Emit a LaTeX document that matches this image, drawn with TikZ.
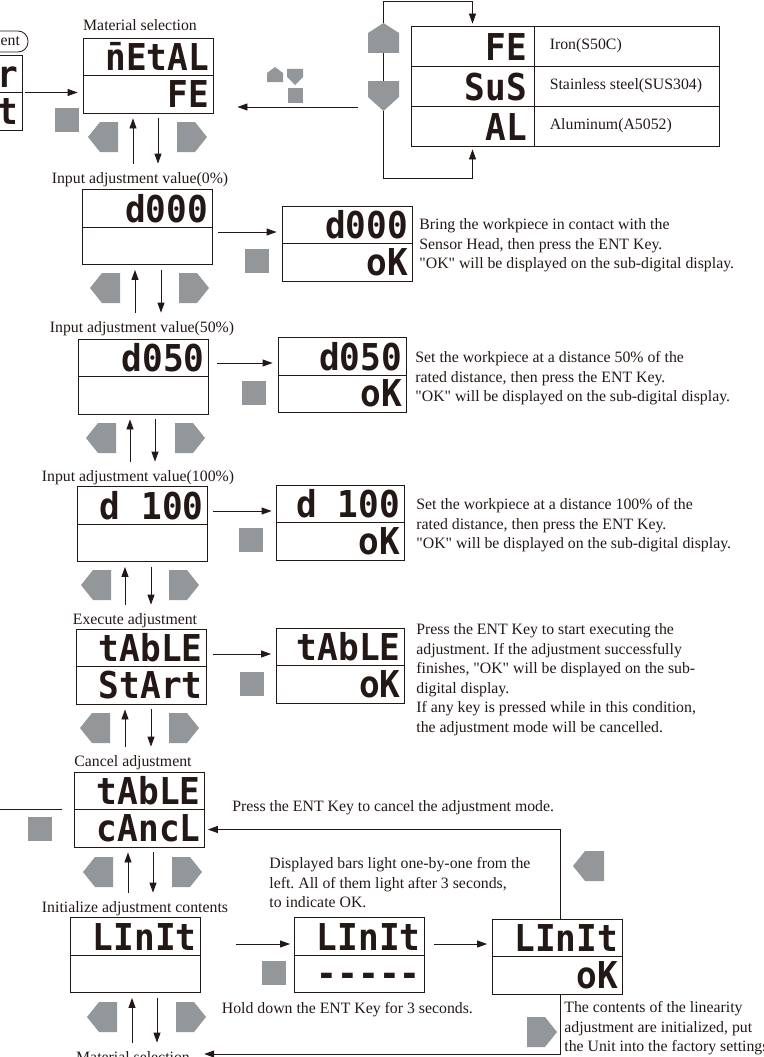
\documentclass[tikz,border=0pt]{standalone}
\usepackage{fontspec}
\setmainfont{Liberation Serif}[Ligatures=TeXOff]
\newfontfamily\segfont{DejaVu Sans Mono}[FakeStretch=0.93, Ligatures=TeXOff]
\usetikzlibrary{arrows.meta, positioning}
\definecolor{lcdink}{HTML}{231815}
\definecolor{keygray}{HTML}{94979A}
\frenchspacing

\begin{document}
\begin{tikzpicture}[x=1pt, y=-1pt, line width=0.8pt, color=lcdink,
  every node/.style={font=\fontsize{15.8}{19.5}\selectfont},
  disp/.style={draw, inner sep=0pt, minimum height=75pt,
    path picture={\draw[line width=0.8pt] (path picture bounding box.west) -- (path picture bounding box.east);}},
  seg/.style={font=\segfont\bfseries\fontsize{37}{37}\selectfont, inner sep=0pt, anchor=base east},
  lbl/.style={inner xsep=0pt, inner ysep=8pt, anchor=base},
  note/.style={align=left, inner sep=0pt, anchor=north west},
  arr/.style={-{Triangle[length=10pt, width=7pt]}},
  cell/.style={draw, minimum height=40pt, inner sep=0pt}]
  \useasboundingbox (0,0) rectangle (763,1057);
  \clip (0,0) rectangle (763,1057);

  % displays: frame, main row, sub row
  \foreach \n/\cx/\cy/\w/\up/\dn in {
      mat/148/75.5/130/{\={n}EtAL}/FE,
      d0a/147/227/130/d000/{},
      d0b/347/243.5/130/d000/oK,
      d5a/143.5/376.5/130/d050/{},
      d5b/342/375/128/d050/oK,
      d1a/142.5/524/130/d 100/{},
      d1b/340/522.5/128/d 100/oK,
      exa/141.5/666.5/130/tAbLE/StArt,
      exb/340.5/665.5/128/tAbLE/oK,
      can/139.5/809.5/130/tAbLE/cAncL,
      ini/135.5/955/130/LInIt/{},
      inib/359.5/955/130/LInIt/-----,
      inic/557/956.5/130/LInIt/oK,
      lft/-43/92.5/130/r/t}
  {
    \node[disp, minimum width=\w] (\n) at (\cx,\cy) {};
    \node[seg] (\n-t) at ([shift={(-4pt,-33pt)}]\n.north east) {\up};
    \node[seg] (\n-b) at ([shift={(-4pt,6pt)}]\n.south east) {\dn};
  }
  \node[draw, rounded corners=10pt, minimum height=21pt, text width=80pt,
        align=right, inner xsep=8pt, inner ysep=0pt] (mode) at (-20,41.5) {ment};

  % step labels
  \node[lbl] (l0) at (140,31) {Material selection};
  \node[lbl] (l1) at (140,183) {Input adjustment value(0\%)};
  \node[lbl] (l2) at (142,332) {Input adjustment value(50\%)};
  \node[lbl] (l3) at (138,481) {Input adjustment value(100\%)};
  \node[lbl] (l4) at (135,624) {Execute adjustment};
  \node[lbl] (l5) at (133,766) {Cancel adjustment};
  \node[lbl] (l6) at (135,912) {Initialize adjustment contents};
  \node[lbl] (l7) at (133,1062) {Material selection};

  % material table
  \foreach \g/\m/\i in {FE/Iron(S50C)/0, SuS/Stainless steel(SUS304)/1, AL/Aluminum(A5052)/2}
  {
    \node[cell, minimum width=123] (g\i) at (472.5,46+40*\i) {};
    \node[seg] (g\i-t) at ([shift={(-7pt,-35pt)}]g\i.north east) {\g};
    \node[cell, minimum width=185, anchor=west] (m\i) at (g\i.east) {};
    \node[anchor=west, inner sep=0pt] (m\i-t) at ([xshift=15pt]m\i.west) {\m};
  }

  % up / down keys between the steps
  \foreach \b/\l/\u/\d in {mat/l1/-15/10, d0a/l2/-12/14, d5a/l3/-13.5/11.5,
      d1a/l4/-17.5/8.5, exa/l5/-16.5/9.5, can/l6/-11.5/13.5, ini/l7/-3.5/21.5}
  {
    \draw[arr] ([xshift=\u]\b.south |- \l.north) -- ([xshift=\u, yshift=-5pt]\b.south);
    \draw[arr] ([xshift=\d, yshift=-5pt]\b.south) -- ([xshift=\d]\b.south |- \l.north);
  }
  \foreach \xl/\xr/\yc in {88/177/137, 90/179/288, 86/175/438, 81/169/585,
      80/169/728, 83/172/872, 87/176/1017}
  {
    \fill[keygray] (\xl,\yc) -- ++(12,-15) -- ++(18,0) -- ++(0,30) -- ++(-18,0) -- cycle;
    \fill[keygray] (\xr,\yc-15) -- ++(18,0) -- ++(12,15) -- ++(-12,15) -- ++(-18,0) -- cycle;
  }

  % ENT key arrows
  \foreach \a/\b/\dy/\s/\e in {d0a/d0b/-5/6/5, d5a/d5b/13.5/8/5, d1a/d1b/13/5/4,
      exa/exb/12.5/6/5, ini/inib/11/35/4, inib/inic/11/9/4.5}
    \draw[arr, shorten <=\s, shorten >=\e] ([yshift=\dy]\a.east) -- ([yshift=\dy]\a.east -| \b.west);
  \foreach \x/\y in {55/108, 245/249, 242/381, 239/528, 240/672, 28/817, 262/961}
    \fill[keygray] (\x,\y) rectangle ++(24,24);
  \draw[arr, shorten <=3, shorten >=5] (lft.east) -- (lft.east -| mat.west);
  \draw ([xshift=-12pt]can.west) -- ++(-80,0);

  % material loop
  \coordinate (ltop) at (383,1);
  \coordinate (lbot) at (383,178);
  \coordinate (selfrom) at (358,107);
  \draw (ltop) -- (lbot);
  \draw[arr, shorten >=2] (ltop) -| (g0.north);
  \draw[arr, shorten >=3] (lbot) -| (g2.south);
  \draw[arr, shorten >=24] (selfrom) -- (selfrom -| mat.east);
  \fill[keygray] (383.5,23) -- ++(15.5,10) -- ++(0,20) -- ++(-31,0) -- ++(0,-20) -- cycle;
  \fill[keygray] (368,81) -- ++(31,0) -- ++(0,16) -- ++(-15.5,14) -- ++(-15.5,-14) -- cycle;
  \fill[keygray] (275,67) -- ++(8,6) -- ++(0,9) -- ++(-16,0) -- ++(0,-9) -- cycle;
  \fill[keygray] (287,69) -- ++(16,0) -- ++(0,8) -- ++(-8,8) -- ++(-8,-8) -- cycle;
  \fill[keygray] (288,88) rectangle ++(15,15);

  % return paths from the initialized display
  \draw[arr, shorten >=3] ([xshift=3pt]inic.north) |- ([yshift=-20pt]can.east);
  \draw[arr] ([xshift=3pt]inic.south) |- ([xshift=14pt, yshift=8pt]l7.base east);
  \fill[keygray] (573,866) -- ++(12,-15) -- ++(19,0) -- ++(0,30) -- ++(-19,0) -- cycle;
  \fill[keygray] (527,1017) -- ++(18,0) -- ++(12,15) -- ++(-12,15) -- ++(-18,0) -- cycle;

  % notes
  \node[note] (n0) at (419,218.2) {Bring the workpiece in contact with the\\Sensor Head, then press the ENT Key.\\"OK" will be displayed on the sub-digital display.};
  \node[note] (n5) at (415,351.2) {Set the workpiece at a distance 50\% of the\\rated distance, then press the ENT Key.\\"OK" will be displayed on the sub-digital display.};
  \node[note] (n1) at (416,498.2) {Set the workpiece at a distance 100\% of the\\rated distance, then press the ENT Key.\\"OK" will be displayed on the sub-digital display.};
  \node[note] (nx) at (416,623.2) {Press the ENT Key to start executing the\\adjustment. If the adjustment successfully\\finishes, "OK" will be displayed on the sub-\\digital display.\\If any key is pressed while in this condition,\\the adjustment mode will be cancelled.};
  \node[anchor=base west, inner sep=0pt] (ncan) at (232,811) {Press the ENT Key to cancel the adjustment mode.};
  \node[note] (nbar) at (269,857.2) {Displayed bars light one-by-one from the\\left. All of them light after 3 seconds,\\to indicate OK.};
  \node[anchor=base west, inner sep=0pt] (nhold) at (221.5,1013) {Hold down the ENT Key for 3 seconds.};
  \node[note] (nfin) at (564,1001.2) {The contents of the linearity\\adjustment are initialized, put\\the Unit into the factory settings};
\end{tikzpicture}
\end{document}
